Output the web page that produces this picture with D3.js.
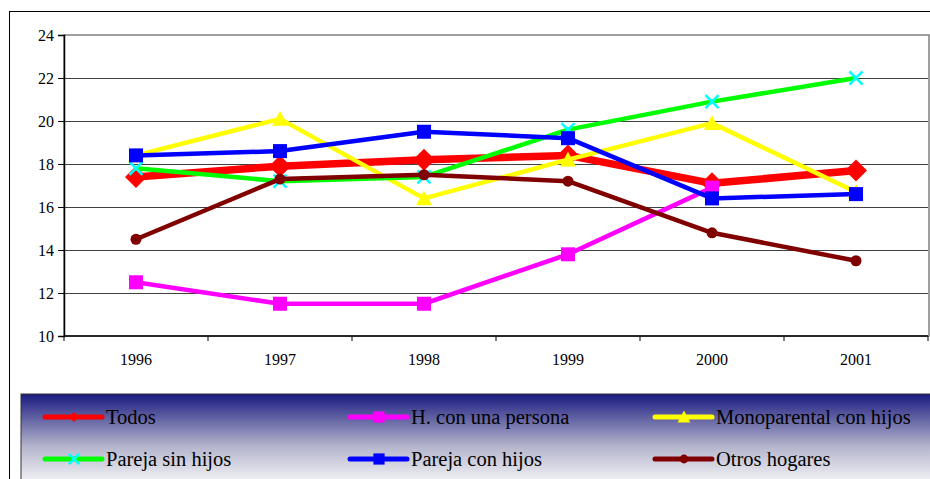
<!DOCTYPE html>
<html>
<head>
<meta charset="utf-8">
<script src="https://cdn.jsdelivr.net/npm/d3@7"></script>
<style>
body { margin:0; background:#fff; }
</style>
</head>
<body>
<div class="chart"></div>
<script>
// años y series
const years = ["1996","1997","1998","1999","2000","2001"];
const yTicks = [10,12,14,16,18,20,22,24];

const todos = [17.4,17.9,18.2,18.4,17.1,17.7];
const unaPersona = [12.5,11.5,11.5,13.8,16.9,null];
const monoparental = [18.4,20.1,16.4,18.2,19.9,16.7];
const sinHijos = [17.8,17.2,17.4,19.6,20.9,22.0];
const conHijos = [18.4,18.6,19.5,19.2,16.4,16.6];
const otros = [14.5,17.3,17.5,17.2,14.8,13.5];

const seriesNames = ["Todos","H. con una persona","Monoparental con hijos","Pareja sin hijos","Pareja con hijos","Otros hogares"];

let series = [
  {name:seriesNames[0], values:todos, line:"#ff0000", mark:"#ff0000", shape:"diamond", w:7.5},
  {name:seriesNames[1], values:unaPersona, line:"#ff00ff", mark:"#ff00ff", shape:"square", w:4.5},
  {name:seriesNames[2], values:monoparental, line:"#ffff00", mark:"#ffff00", shape:"triangle", w:4.5},
  {name:seriesNames[3], values:sinHijos, line:"#00ff00", mark:"#00ffff", shape:"x", w:4.5},
  {name:seriesNames[4], values:conHijos, line:"#0000ff", mark:"#0000ff", shape:"square", w:4.5},
  {name:seriesNames[5], values:otros, line:"#800000", mark:"#800000", shape:"circle", w:4.5}
];

let W = 930, H = 479;
let plot = {left:64, top:35, right:928, bottom:336};
const FONT = "Liberation Serif";

let svg = d3.select(".chart").append("svg")
  .attr("width", W).attr("height", H);

// outer frame
svg.append("line").attr("x1",9.5).attr("x2",9.5).attr("y1",11).attr("y2",H).attr("stroke","#000");
svg.append("line").attr("x1",9).attr("x2",W).attr("y1",11.5).attr("y2",11.5).attr("stroke","#000");

let x = d3.scaleBand().domain(years).range([plot.left, plot.right]);
let y = d3.scaleLinear().domain([10,24]).range([plot.bottom, plot.top]);
let cx = d => x(d) + x.bandwidth()/2;

// plot area border (gray)
svg.append("rect")
  .attr("x", plot.left).attr("y", plot.top)
  .attr("width", plot.right - plot.left + 1).attr("height", plot.bottom - plot.top)
  .attr("fill","none").attr("stroke","#808080").attr("stroke-width",1.5);

// gridlines
svg.append("g").selectAll("line")
  .data(yTicks.filter(t => t > 10 && t < 24))
  .enter().append("line")
  .attr("x1", plot.left).attr("x2", plot.right)
  .attr("y1", d => Math.round(y(d)) + 0.5).attr("y2", d => Math.round(y(d)) + 0.5)
  .attr("stroke","#404040");

// y axis
let yAxis = d3.axisLeft(y).tickValues(yTicks).tickSize(6).tickPadding(4);
let gy = svg.append("g")
  .attr("transform", `translate(${plot.left},0)`)
  .call(yAxis);
gy.select(".domain").attr("stroke","#000").attr("stroke-width",1.5);
gy.selectAll("text")
  .attr("font-family", FONT).attr("font-size", 16).attr("fill","#000")
  .attr("dy", "0.35em");

// x axis: ticks between categories
let gx = svg.append("g")
  .attr("transform", `translate(0,${plot.bottom})`);
gx.append("line").attr("x1",plot.left).attr("x2",plot.right)
  .attr("stroke","#000").attr("stroke-width",1.5);
gx.selectAll(".tk").data(years.concat(["end"])).enter().append("line")
  .attr("x1", d => d === "end" ? plot.right : x(d))
  .attr("x2", d => d === "end" ? plot.right : x(d))
  .attr("y1",0).attr("y2",5).attr("stroke","#000");
gx.selectAll("text").data(years).enter().append("text")
  .attr("x", d => cx(d)).attr("y", 29)
  .attr("font-family", FONT).attr("font-size", 16).attr("fill","#000")
  .attr("text-anchor","middle").text(d => d);

function drawMarker(g, shape, px, py, color, scale) {
  let s = scale || 1;
  if (shape === "diamond") {
    let r = 11 * s;
    g.append("path").attr("d", `M${px},${py-r}L${px+r},${py}L${px},${py+r}L${px-r},${py}Z`).attr("fill", color);
  } else if (shape === "square") {
    let r = 7 * s;
    g.append("rect").attr("x", px-r).attr("y", py-r).attr("width", 2*r).attr("height", 2*r).attr("fill", color);
  } else if (shape === "triangle") {
    let r = 8 * s;
    g.append("path").attr("d", `M${px},${py-r}L${px+r},${py+r*0.85}L${px-r},${py+r*0.85}Z`).attr("fill", color);
  } else if (shape === "circle") {
    g.append("circle").attr("cx", px).attr("cy", py).attr("r", 5.5 * s).attr("fill", color);
  } else if (shape === "x") {
    let r = 6.5 * s;
    g.append("path").attr("d", `M${px-r},${py-r}L${px+r},${py+r}M${px-r},${py+r}L${px+r},${py-r}`)
      .attr("stroke", color).attr("stroke-width", 2.5).attr("fill","none");
  }
}

let line = d3.line()
  .defined(d => d.v != null)
  .x(d => cx(d.year))
  .y(d => y(d.v));

series.forEach(s => {
  let pts = years.map((yr, i) => ({year:yr, v:s.values[i]}));
  let g = svg.append("g");
  g.append("path").datum(pts)
    .attr("d", line)
    .attr("fill","none")
    .attr("stroke", s.line)
    .attr("stroke-width", s.w)
    .attr("stroke-linejoin","round");
  pts.filter(p => p.v != null).forEach(p => drawMarker(g, s.shape, cx(p.year), y(p.v), s.mark));
});

// legend
let defs = svg.append("defs");
let grad = defs.append("linearGradient").attr("id","lg").attr("x1",0).attr("y1",0).attr("x2",0).attr("y2",1);
grad.append("stop").attr("offset","0%").attr("stop-color","#1a1a80");
grad.append("stop").attr("offset","55%").attr("stop-color","#b4b4cc");
grad.append("stop").attr("offset","100%").attr("stop-color","#ffffff");

let lg = svg.append("g");
lg.append("rect").attr("x",21).attr("y",394).attr("width",W).attr("height",H-394+10)
  .attr("fill","url(#lg)").attr("stroke","#333").attr("stroke-width",1);

let colX = [45, 350, 655];
let rowY = [417, 459];
series.forEach((s, i) => {
  let lx = colX[i % 3], ly = rowY[Math.floor(i / 3)];
  let item = lg.append("g");
  item.append("line").attr("x1", lx).attr("x2", lx + 57).attr("y1", ly).attr("y2", ly)
    .attr("stroke", s.line).attr("stroke-width", 5).attr("stroke-linecap","round");
  drawMarker(item, s.shape, lx + 29, ly, s.mark, s.shape === "diamond" ? 0.45 : 0.8);
  item.append("text").attr("x", lx + 61).attr("y", ly + 7)
    .attr("font-family", FONT).attr("font-size", 20.5).attr("fill","#000")
    .text(s.name);
});
</script>
</body>
</html>
